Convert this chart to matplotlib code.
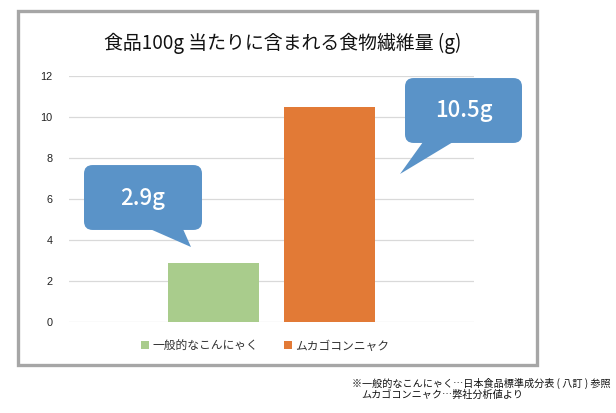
import matplotlib
matplotlib.use("Agg")
import matplotlib.pyplot as plt
from matplotlib.patches import FancyBboxPatch, Polygon, Rectangle

plt.rcParams["font.family"] = ["Noto Sans CJK JP", "DejaVu Sans"]

# ── Data ───────────────────────────────────────────────────────────────────
series = ["一般的なこんにゃく", "ムカゴコンニャク"]
values = [2.9, 10.5]
colors = ["#A9CC8C", "#E27A36"]
y_ticks = [0, 2, 4, 6, 8, 10, 12]
title = "食品100g 当たりに含まれる食物繊維量 (g)"
notes = ["※一般的なこんにゃく…日本食品標準成分表 ( 八訂 ) 参照",
         "ムカゴコンニャク…弊社分析値より"]

W, H = 616, 413
CALLOUT = "#5A93C8"


def fx(px):
    return px / W


def fy(py):
    return (H - py) / H


fig = plt.figure(figsize=(W / 100, H / 100), dpi=100)

# outer gray frame
fig.patches.append(Rectangle((fx(18), fy(365)), fx(537) - fx(18), fy(11) - fy(365),
                             transform=fig.transFigure, fill=False,
                             edgecolor="#A6A6A6", linewidth=2.4))

ax = fig.add_axes([fx(69), fy(322), fx(474) - fx(69), fy(76) - fy(322)])
offsets = [-0.143, 0.143]
for name, v, c, off in zip(series, values, colors, offsets):
    ax.bar(0.5 + off, v, width=0.225, color=c, label=name, zorder=2)

ax.set_xlim(0, 1)
ax.set_ylim(0, 12)
ax.set_yticks(y_ticks)
ax.set_xticks([])
ax.tick_params(axis="y", length=0, pad=12, labelsize=7.8, labelcolor="#222222")
for lbl in ax.get_yticklabels():
    lbl.set_family(["Liberation Sans", "DejaVu Sans"])
ax.grid(axis="y", color="#D9D9D9", linewidth=0.9, zorder=0)
for s in ax.spines.values():
    s.set_visible(False)

fig.text(fx(283), fy(43), title, ha="center", va="center", fontsize=13.6, color="#111111")

fig.legend(loc="center", bbox_to_anchor=(fx(265), fy(346)), ncol=2, frameon=False,
           fontsize=8.5, handlelength=0.65, handleheight=0.65, handletextpad=0.3,
           columnspacing=2.2, labelcolor="#333333")

# callouts (box + tail, pixel layout)
callouts = [
    ((84, 165, 202, 230), [(150, 229), (183, 229), (191, 247)]),
    ((405, 78, 522, 143), [(423, 142), (453, 142), (400, 174)]),
]
for (x0, y0, x1, y1), tail in callouts:
    box = FancyBboxPatch((fx(x0) + 0.012, fy(y1) + 0.018),
                         fx(x1) - fx(x0) - 0.024, fy(y0) - fy(y1) - 0.036,
                         boxstyle="round,pad=0.012,rounding_size=0.014",
                         transform=fig.transFigure, facecolor=CALLOUT,
                         edgecolor="none", mutation_aspect=W / H)
    fig.patches.append(box)
    fig.patches.append(Polygon([(fx(a), fy(b)) for a, b in tail], closed=True,
                               transform=fig.transFigure, facecolor=CALLOUT,
                               edgecolor="none"))

label_pos = [(143, 198), (464, 110)]
for v, (px, py) in zip(values, label_pos):
    fig.text(fx(px), fy(py), f"{v}g", ha="center", va="center", fontsize=16,
             color="white", fontweight="medium")

fig.text(fx(352), fy(383), notes[0], ha="left", va="center", fontsize=7.3, color="#111111")
fig.text(fx(361), fy(395), notes[1], ha="left", va="center", fontsize=7.3, color="#111111")

fig.savefig("out.png", dpi=100)
